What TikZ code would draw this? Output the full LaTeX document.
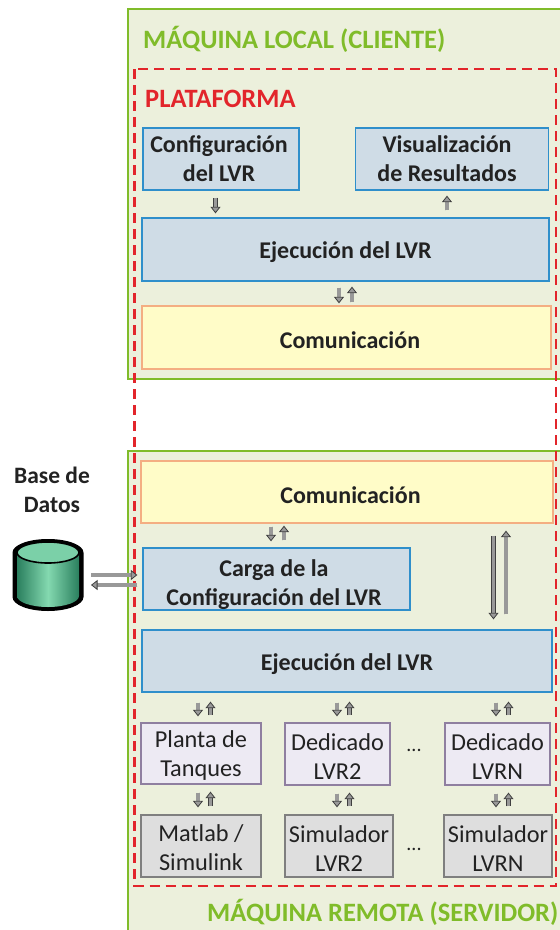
\documentclass[tikz,border=0pt]{standalone}
\usepackage{fontspec}
\setmainfont{Carlito}
\usetikzlibrary{arrows.meta}
\definecolor{fondoMaq}{HTML}{ECF0DC}
\definecolor{verdeMaq}{HTML}{80BC2A}
\definecolor{rojoPlat}{HTML}{E2252B}
\definecolor{azulCaja}{HTML}{CFDCE6}
\definecolor{azulBorde}{HTML}{2F8FCB}
\definecolor{amaCaja}{HTML}{FFFCC8}
\definecolor{amaBorde}{HTML}{F4AE82}
\definecolor{lilaCaja}{HTML}{EDEAF3}
\definecolor{lilaBorde}{HTML}{8F7FA0}
\definecolor{grisCaja}{HTML}{DEDEDE}
\definecolor{grisBorde}{HTML}{7F7F7F}
\definecolor{texto}{HTML}{222222}
\definecolor{cilOscuro}{HTML}{2A7F5E}
\definecolor{cilClaro}{HTML}{84D9B0}
\newcommand{\altoFino}{\rule{0pt}{21pt}}
\tikzset{
  maquina/.style={draw=verdeMaq,fill=fondoMaq,line width=2pt},
  plataforma/.style={draw=rojoPlat,line width=2.2pt,dash pattern=on 10pt off 6pt},
  caja/.style={inner sep=0pt,align=center,text=texto,line width=1.3pt},
  bloque/.style={caja,font=\fontsize{24}{29}\selectfont\bfseries,execute at begin node={\rule{0pt}{23pt}}},
  azul/.style={bloque,draw=azulBorde,fill=azulCaja},
  amarillo/.style={bloque,draw=amaBorde,fill=amaCaja},
  lila/.style={caja,font=\fontsize{24.3}{29}\selectfont,draw=lilaBorde,fill=lilaCaja},
  gris/.style={caja,font=\fontsize{24.3}{29}\selectfont,draw=grisBorde,fill=grisCaja},
  titulo/.style={inner sep=0pt,anchor=west,font=\fontsize{26.5}{30}\selectfont\bfseries},
  flecha/.style={draw=black!75,line width=.8pt,double=black!40,double distance=3.2pt,
    -{Triangle[length=6.5pt,width=10pt,fill=black!40]}},
}
\begin{document}
\begin{tikzpicture}[x=1pt,y=-1pt]
\clip (0,0) rectangle (560,930);
\fill[white] (0,0) rectangle (560,930);
\draw[maquina] (128,9) rectangle (566,379);
\draw[maquina] (128,451) rectangle (566,940);
\draw[plataforma] (134.5,69) rectangle (556,886);

\node[titulo,text=verdeMaq] (tituloLocal) at (143,39) {MÁQUINA LOCAL (CLIENTE)};
\node[titulo,text=rojoPlat] (tituloPlat) at (145,98.5) {PLATAFORMA};
\node[titulo,text=verdeMaq] (tituloRemota) at (207,912) {MÁQUINA REMOTA (SERVIDOR)};

\node[azul,minimum width=156,minimum height=62] (confLVR) at (221,159) {Configuración\hspace*{4pt}\\del LVR\hspace*{4pt}};
\node[azul,minimum width=193,minimum height=62] (visuRes) at (452,159) {Visualización\hspace*{10pt}\\de Resultados\hspace*{10pt}};
\node[azul,minimum width=407,minimum height=63] (ejecLocal) at (345.5,249.5) {Ejecución del LVR};
\node[amarillo,minimum width=409,minimum height=63] (comLocal) at (346.5,337.5) {\hspace*{7pt}Comunicación};

\node[amarillo,minimum width=412,minimum height=62] (comRemota) at (347,492) {\hspace*{7pt}Comunicación};
\node[azul,minimum width=267,minimum height=62] (cargaLVR) at (276.5,579) {\rule{0pt}{29pt}Carga de la\hspace*{5pt}\\Configuración del LVR\hspace*{5pt}};
\node[azul,minimum width=410,minimum height=62] (ejecRemota) at (347,661) {Ejecución del LVR};

\node[lila,minimum width=120,minimum height=61] (planta) at (201,753.5) {\altoFino Planta de\\Tanques};
\node[lila,minimum width=105,minimum height=62] (dedDos) at (337.5,754) {\altoFino Dedicado\\LVR2};
\node[lila,minimum width=105,minimum height=62] (dedEne) at (497.5,754) {\altoFino Dedicado\\LVRN};
\node[gris,minimum width=120,minimum height=62] (matlab) at (201,846) {\altoFino Matlab /\\Simulink};
\node[gris,minimum width=108,minimum height=62] (simDos) at (339,846) {\altoFino Simulador\\LVR2};
\node[gris,minimum width=108,minimum height=62] (simEne) at (498,846) {\altoFino Simulador\\LVRN};

\node[inner sep=0pt,text=texto,font=\fontsize{20}{20}\selectfont] (ptsDed) at (414,750) {...};
\node[inner sep=0pt,text=texto,font=\fontsize{20}{20}\selectfont] (ptsSim) at (414,849) {...};

\node[inner sep=0pt,align=center,text=texto,font=\fontsize{23.5}{29}\selectfont\bfseries] (baseDatos) at (52,489.5) {Base de\\Datos};

\fill[black] (12.5,552.5) -- (12.5,597) arc[start angle=180,end angle=0,x radius=35.5,y radius=14]
  -- (83.5,552.5) arc[start angle=0,end angle=-180,x radius=35.5,y radius=13.5] -- cycle;
\shade[left color=cilOscuro,right color=cilOscuro,middle color=cilClaro]
  (17,552) -- (17,596) arc[start angle=180,end angle=0,x radius=31,y radius=11]
  -- (79,552) -- cycle;
\draw[black,line width=1.6pt,fill=cilClaro!90!cilOscuro] (48,552.5) ellipse[x radius=31,y radius=10.5];
\coordinate (cilindroA) at (91,575);
\coordinate (cilindroB) at (91,585);

\draw[flecha] ([xshift=-5.5,yshift=-7]confLVR.south) -- ([xshift=-5.5,yshift=4]confLVR.south |- ejecLocal.north);
\draw[flecha] ([xshift=-5,yshift=7]visuRes.south |- ejecLocal.north) -- ([xshift=-5,yshift=-5]visuRes.south);
\draw[flecha] ([xshift=-6.5,yshift=-6]ejecLocal.south) -- ([xshift=-6.5,yshift=2]ejecLocal.south |- comLocal.north);
\draw[flecha] ([xshift=6.5,yshift=3]ejecLocal.south |- comLocal.north) -- ([xshift=6.5,yshift=-5]ejecLocal.south);
\draw[flecha] ([xshift=-5.5,yshift=-3]cargaLVR.north |- comRemota.south) -- ([xshift=-5.5,yshift=6]cargaLVR.north);
\draw[flecha] ([xshift=7.5,yshift=7]cargaLVR.north) -- ([xshift=7.5,yshift=-2]cargaLVR.north |- comRemota.south);
\draw[flecha] ([xshift=146.5,yshift=-12]comRemota.south) -- ([xshift=146.5,yshift=10]comRemota.south |- ejecRemota.north);
\draw[flecha] ([xshift=159,yshift=15]comRemota.south |- ejecRemota.north) -- ([xshift=159,yshift=-7]comRemota.south);
\foreach \cajaSup/\cajaInf/\sep in {planta/matlab/-3,dedDos/simDos/-0.5,dedEne/simEne/-1.5}{
  \draw[flecha] ([xshift=\sep,yshift=-10]\cajaSup.north |- ejecRemota.south) -- ([xshift=\sep,yshift=6]\cajaSup.north);
  \draw[flecha] ([xshift=\sep+12.5,yshift=7]\cajaSup.north) -- ([xshift=\sep+12.5,yshift=-9]\cajaSup.north |- ejecRemota.south);
  \draw[flecha] ([xshift=\sep,yshift=-8]\cajaSup.south) -- ([xshift=\sep,yshift=7]\cajaSup.south |- \cajaInf.north);
  \draw[flecha] ([xshift=\sep+12.5,yshift=8]\cajaSup.south |- \cajaInf.north) -- ([xshift=\sep+12.5,yshift=-7]\cajaSup.south);
}
\draw[flecha] (cilindroA) -- ([xshift=-5]cargaLVR.west |- cilindroA);
\draw[flecha] ([xshift=-5]cargaLVR.west |- cilindroB) -- (cilindroB);
\end{tikzpicture}
\end{document}
